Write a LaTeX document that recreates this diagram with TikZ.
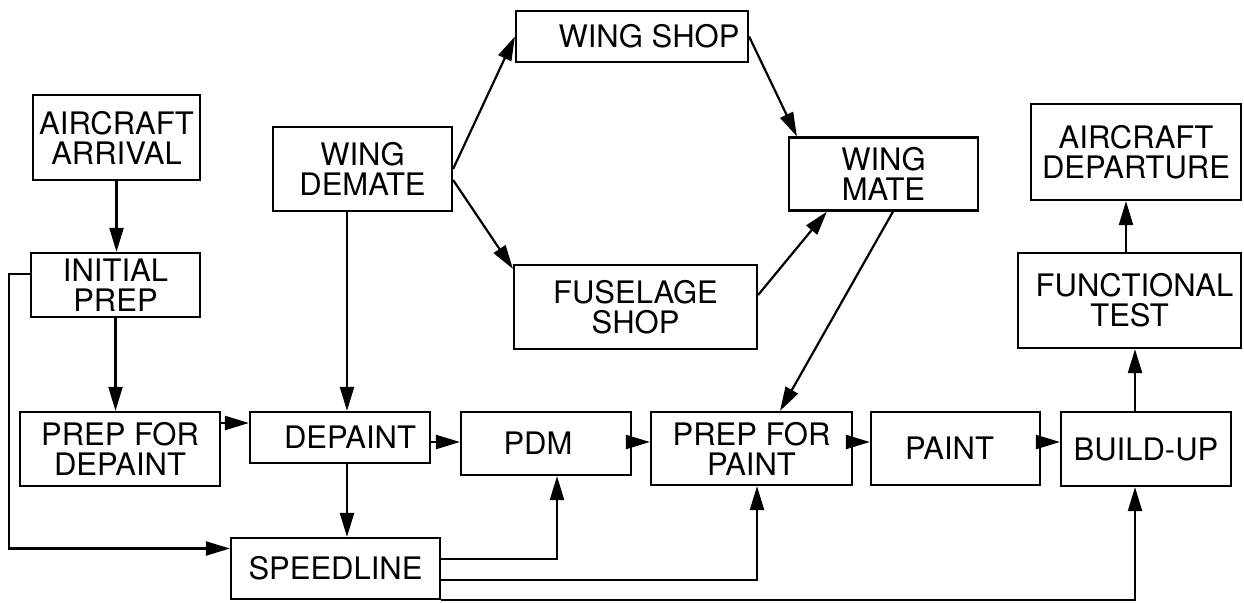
\documentclass[tikz,border=0pt]{standalone}
\usepackage{fontspec}
\setmainfont{TeX Gyre Heros}
\usepackage{tikz}
\usetikzlibrary{arrows.meta, positioning}

\begin{document}
\begin{tikzpicture}[x=1pt, y=-1pt, font=\fontsize{31}{30}\selectfont,
  box/.style={draw, line width=2.2pt, inner sep=0pt, align=center},
  flow/.style={-{Triangle[length=24pt, width=14pt]}, line width=2.2pt}]
\useasboundingbox (0,0) rectangle (1244,602);
\node[box, minimum width=167pt, minimum height=85pt] (arrival) at (116.5,137.5) {AIRCRAFT\\ARRIVAL};
\node[box, minimum width=169pt, minimum height=64pt] (initprep) at (115.5,285) {INITIAL\\PREP};
\node[box, minimum width=179pt, minimum height=84pt] (wingdem) at (362.5,169) {WING\\DEMATE};
\node[box, minimum width=232pt, minimum height=51pt] (wingshop) at (632,36.5) {\hspace*{34pt}WING SHOP};
\node[box, minimum width=243pt, minimum height=84pt] (fusshop) at (635.5,307) {FUSELAGE\\SHOP};
\node[box, minimum width=189pt, minimum height=73pt] (wingmate) at (883.5,174) {WING\\MATE};
\node[box, minimum width=210pt, minimum height=96pt] (departure) at (1136,152) {AIRCRAFT\\DEPARTURE};
\node[box, minimum width=223pt, minimum height=95pt] (functest) at (1129.5,300.5) {\hspace*{10pt}FUNCTIONAL\\TEST};
\node[box, minimum width=200pt, minimum height=74pt] (prepdep) at (120,449) {PREP FOR\\DEPAINT};
\node[box, minimum width=180pt, minimum height=51pt] (depaint) at (340,437.5) {\hspace*{20pt}DEPAINT};
\node[box, minimum width=209pt, minimum height=61pt] (speedline) at (335.5,568.5) {SPEEDLINE};
\node[box, minimum width=170pt, minimum height=63pt] (pdm) at (546,443.5) {PDM\hspace*{16pt}};
\node[box, minimum width=201pt, minimum height=73pt] (prepp) at (751.5,448.5) {PREP FOR\\PAINT};
\node[box, minimum width=169pt, minimum height=73pt] (paint) at (955.5,448.5) {PAINT\hspace*{12pt}};
\node[box, minimum width=170pt, minimum height=74pt] (buildup) at (1146,449) {BUILD-UP};
\coordinate (row) at (0,442);
\draw[flow] (arrival.south) -- (arrival.south |- initprep.north);
\draw[flow] (initprep.south) -- (initprep.south |- prepdep.north);
\draw[flow] ([yshift=11pt]initprep.west) -- ++(-21,0) |- ([yshift=20pt]speedline.west);
\draw[flow] ([xshift=7pt]depaint.north |- wingdem.south) -- ([xshift=7pt]depaint.north);
\draw[flow] ([xshift=7pt]depaint.south) -- ([xshift=7pt]depaint.south |- speedline.north);
\draw[flow] ([yshift=26pt]prepdep.east) -- ([yshift=26pt]prepdep.east -| depaint.west);
\draw[flow] (depaint.east |- row) -- (pdm.west |- row);
\draw[flow] (pdm.east |- row) -- (prepp.west |- row);
\draw[flow] (prepp.east |- row) -- (paint.west |- row);
\draw[flow] (paint.east |- row) -- (buildup.west |- row);
\draw[flow] ([yshift=9.5pt]speedline.east) -| ([xshift=11pt]pdm.south);
\draw[flow] ([yshift=-11.5pt]speedline.east) -| ([xshift=5.5pt]prepp.south);
\draw[flow] (speedline.south east) -| ([xshift=-11pt]buildup.south);
\draw[flow] ([xshift=-11pt]buildup.north) -- ([xshift=-11pt]buildup.north |- functest.south);
\draw[flow] ([xshift=-3.5pt]functest.north) -- ([xshift=-3.5pt]functest.north |- departure.south);
\draw[flow] (wingdem.east) -- (wingshop.west);
\draw[flow] ([yshift=-11pt]wingdem.east) -- ([yshift=-5pt]fusshop.north west);
\draw[flow] (wingshop.east) -- ([xshift=9pt]wingmate.north west);
\draw[flow] ([yshift=12pt]fusshop.east) -- ([xshift=39pt]wingmate.south west);
\draw[flow] ([xshift=9.5pt]wingmate.south) -- ([xshift=28.5pt]prepp.north);
\end{tikzpicture}
\end{document}
